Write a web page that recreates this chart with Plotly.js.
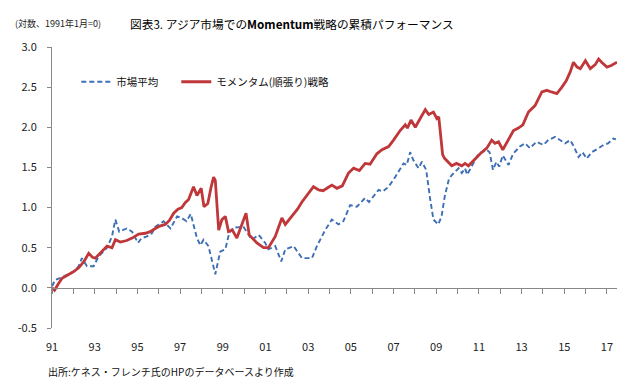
<!DOCTYPE html>
<html>
<head>
<meta charset="utf-8">
<script src="https://cdn.plot.ly/plotly-3.0.1.min.js"></script>
<style>html,body{margin:0;padding:0;background:#fff;}#chart{width:640px;height:386px;}</style>
</head>
<body>
<div id="chart"></div>
<script>
// Momentum strategy (cumulative, log, Jan 1991 = 0)
const momX = [1991.0,1991.12,1991.3,1991.47,1991.8,1992.0,1992.25,1992.5,1992.72,1992.9,1993.03,1993.3,1993.58,1993.81,1993.97,1994.2,1994.5,1994.75,1995.06,1995.37,1995.6,1995.84,1996.05,1996.3,1996.5,1996.7,1996.9,1997.08,1997.24,1997.4,1997.63,1997.79,1997.99,1998.12,1998.3,1998.45,1998.57,1998.65,1998.81,1998.96,1999.12,1999.27,1999.45,1999.66,1999.9,2000.09,2000.24,2000.6,2000.91,2001.14,2001.46,2001.77,2001.93,2002.24,2002.5,2002.71,2003.02,2003.25,2003.49,2003.7,2003.88,2004.11,2004.35,2004.6,2004.89,2005.13,2005.4,2005.67,2005.9,2006.22,2006.46,2006.77,2007.0,2007.31,2007.55,2007.65,2007.82,2008.02,2008.25,2008.49,2008.65,2008.87,2009.03,2009.12,2009.3,2009.4,2009.73,2009.95,2010.2,2010.35,2010.51,2010.75,2011.06,2011.37,2011.6,2011.75,2011.92,2012.12,2012.39,2012.62,2012.85,2013.06,2013.32,2013.63,2013.95,2014.18,2014.4,2014.65,2014.89,2015.09,2015.28,2015.43,2015.6,2015.75,2015.99,2016.22,2016.45,2016.61,2016.75,2017.0,2017.2,2017.47];
const momY = [0.00,-0.03,0.05,0.12,0.17,0.20,0.25,0.33,0.43,0.38,0.37,0.45,0.52,0.50,0.60,0.57,0.59,0.62,0.67,0.68,0.70,0.74,0.77,0.79,0.84,0.93,0.98,1.00,1.06,1.10,1.26,1.15,1.24,1.01,1.05,1.25,1.38,1.34,0.72,0.85,0.89,0.70,0.72,0.62,0.79,0.93,0.66,0.56,0.50,0.50,0.64,0.87,0.79,0.89,0.98,1.07,1.18,1.26,1.22,1.21,1.24,1.28,1.24,1.27,1.43,1.49,1.46,1.55,1.54,1.67,1.72,1.76,1.84,1.96,2.03,1.99,2.09,2.00,2.11,2.22,2.16,2.19,2.11,2.13,1.66,1.61,1.52,1.55,1.52,1.55,1.52,1.59,1.67,1.74,1.84,1.80,1.82,1.72,1.84,1.96,1.99,2.03,2.19,2.27,2.44,2.46,2.44,2.42,2.50,2.58,2.69,2.81,2.75,2.73,2.83,2.73,2.78,2.85,2.81,2.75,2.77,2.81];

// Market average
const mktX = [1991.0,1991.15,1991.45,1991.78,1992.0,1992.25,1992.4,1992.64,1992.95,1993.18,1993.58,1993.81,1993.97,1994.15,1994.35,1994.5,1994.75,1995.03,1995.2,1995.45,1995.68,1995.84,1996.23,1996.55,1996.86,1997.08,1997.3,1997.5,1997.79,1997.95,1998.1,1998.33,1998.65,1998.88,1999.12,1999.3,1999.5,1999.97,2000.36,2000.68,2000.99,2001.14,2001.46,2001.74,2001.93,2002.32,2002.71,2003.18,2003.41,2003.8,2004.11,2004.42,2004.65,2004.97,2005.28,2005.67,2005.85,2006.3,2006.5,2006.77,2007.08,2007.47,2007.62,2007.78,2007.93,2008.17,2008.33,2008.53,2008.72,2008.87,2009.1,2009.25,2009.4,2009.6,2009.75,2009.9,2010.05,2010.2,2010.35,2010.45,2010.66,2010.98,2011.37,2011.5,2011.66,2011.82,2011.95,2012.12,2012.39,2012.6,2012.92,2013.16,2013.39,2013.7,2014.02,2014.25,2014.57,2014.8,2015.04,2015.28,2015.45,2015.67,2015.85,2016.05,2016.29,2016.61,2016.84,2017.05,2017.3,2017.42];
const mktY = [0.02,0.10,0.13,0.17,0.20,0.27,0.37,0.27,0.27,0.39,0.50,0.64,0.85,0.70,0.72,0.74,0.70,0.56,0.62,0.64,0.68,0.76,0.83,0.74,0.89,0.87,0.83,0.92,0.62,0.53,0.60,0.52,0.17,0.45,0.48,0.68,0.75,0.76,0.60,0.66,0.56,0.48,0.52,0.33,0.48,0.52,0.37,0.37,0.52,0.72,0.85,0.79,0.83,1.03,1.01,1.12,1.07,1.22,1.20,1.26,1.38,1.55,1.53,1.69,1.59,1.49,1.57,1.47,1.10,0.85,0.79,0.89,1.14,1.36,1.41,1.45,1.49,1.43,1.49,1.41,1.51,1.67,1.72,1.69,1.47,1.57,1.51,1.65,1.53,1.67,1.76,1.80,1.74,1.82,1.78,1.84,1.88,1.84,1.80,1.84,1.76,1.63,1.69,1.61,1.69,1.74,1.78,1.80,1.86,1.85];

const seriesNames = ['市場平均', 'モメンタム(順張り)戦略'];
const yearTicks = [1991,1992,1993,1994,1995,1996,1997,1998,1999,2000,2001,2002,2003,2004,2005,2006,2007,2008,2009,2010,2011,2012,2013,2014,2015,2016,2017];
const labelTicks = [1991,1993,1995,1997,1999,2001,2003,2005,2007,2009,2011,2013,2015,2017];
const labelText = ['91','93','95','97','99','01','03','05','07','09','11','13','15','17'];
const yTickVals = [-0.5,0,0.5,1,1.5,2,2.5,3];
const yTickText = ['-0.5','0.0','0.5','1.0','1.5','2.0','2.5','3.0'];

const FONT = '"Noto Sans CJK JP", "Noto Sans", sans-serif';
const xRange = [1991, 2017.47];
const yRange = [-0.5, 3.0];

const traces = [
  {x: mktX, y: mktY, name: seriesNames[0], type: 'scatter', mode: 'lines', legend: 'legend',
   line: {color: '#3E6FB4', width: 1.9, dash: '5px,3px'}},
  {x: momX, y: momY, name: seriesNames[1], type: 'scatter', mode: 'lines', legend: 'legend2',
   line: {color: '#C0373A', width: 2.8}},
  {x: [xRange[0]], y: [null], xaxis: 'x2', showlegend: false, hoverinfo: 'skip', mode: 'lines'}
];

const legendBase = {orientation: 'h', xanchor: 'left', yanchor: 'top', y: 0.928,
  font: {family: FONT, size: 10.5, color: '#111'}, bgcolor: 'rgba(0,0,0,0)'};

const layout = {
  width: 640, height: 386,
  margin: {l: 52, r: 23, t: 47, b: 58},
  paper_bgcolor: '#fff', plot_bgcolor: '#fff',
  font: {family: FONT, size: 11, color: '#333'},
  showlegend: true,
  legend: Object.assign({}, legendBase, {x: 0.043}),
  legend2: Object.assign({}, legendBase, {x: 0.22}),
  xaxis: {range: xRange, showgrid: false, zeroline: false, showline: false,
          tickmode: 'array', tickvals: labelTicks, ticktext: labelText,
          ticks: 'outside', ticklen: 9, tickcolor: 'rgba(0,0,0,0)',
          tickfont: {family: FONT, size: 11, color: '#222'}, fixedrange: true},
  xaxis2: {range: xRange, overlaying: 'x', anchor: 'free', position: 0.5 / 3.5,
           showgrid: false, zeroline: false, showline: true, linecolor: '#888', linewidth: 1,
           tickmode: 'array', tickvals: yearTicks, ticks: 'outside', ticklen: 5,
           tickcolor: '#888', showticklabels: false, fixedrange: true},
  yaxis: {range: yRange, showgrid: false, zeroline: false, showline: true,
          linecolor: '#888', linewidth: 1, ticks: 'outside', ticklen: 4, tickcolor: '#888',
          tickmode: 'array', tickvals: yTickVals, ticktext: yTickText, ticklabelstandoff: 8,
          tickfont: {family: FONT, size: 11, color: '#222'}, fixedrange: true},
  annotations: [
    {text: '図表3. アジア市場での<b>Momentum</b>戦略の累積パフォーマンス', xref: 'paper', yref: 'paper',
     x: 0.425, y: 1, yshift: 24, xanchor: 'center', yanchor: 'middle', showarrow: false,
     font: {family: FONT, size: 11.7, color: '#000'}},
    {text: '(対数、1991年1月=0)', xref: 'paper', yref: 'paper',
     x: 0, xshift: -39, y: 1, yshift: 24, xanchor: 'left', yanchor: 'middle', showarrow: false,
     font: {family: FONT, size: 9, color: '#222'}},
    {text: '出所:ケネス・フレンチ氏のHPのデータベースより作成', xref: 'paper', yref: 'paper',
     x: 0, xshift: -6, y: 0, yshift: -43, xanchor: 'left', yanchor: 'middle', showarrow: false,
     font: {family: FONT, size: 10, color: '#111'}}
  ]
};

Plotly.newPlot('chart', traces, layout, {displayModeBar: false, staticPlot: true});
</script>
</body>
</html>
